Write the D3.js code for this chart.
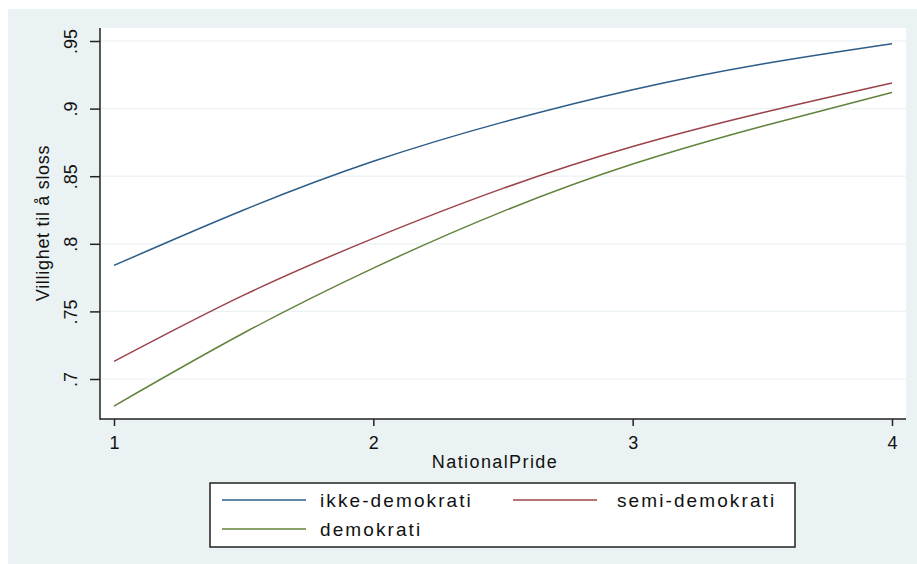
<!DOCTYPE html>
<html>
<head>
<meta charset="utf-8">
<script src="https://cdn.jsdelivr.net/npm/d3@7"></script>
<style>
  html, body { margin: 0; padding: 0; background: #ffffff; }
  svg { display: block; font-family: "Liberation Sans", Arial, sans-serif; }
</style>
</head>
<body>
<svg id="chart" width="917" height="564"></svg>
<script>
// Predicted willingness to fight by national pride, per regime type
const pride = [1, 1.5, 2, 2.5, 3, 3.5, 4];
const ikkeDemokrati = [0.784, 0.825, 0.861, 0.890, 0.914, 0.933, 0.948];
const semiDemokrati = [0.713, 0.762, 0.804, 0.841, 0.872, 0.897, 0.919];
const demokrati     = [0.680, 0.734, 0.782, 0.824, 0.859, 0.887, 0.912];

const seriesNames = ["ikke-demokrati", "semi-demokrati", "demokrati"];
const seriesColors = ["#2c5c88", "#9c434a", "#62833c"];

const xTicks = [1, 2, 3, 4];
const xTickLabels = ["1", "2", "3", "4"];
const yTicks = [0.7, 0.75, 0.8, 0.85, 0.9, 0.95];
const yTickLabels = [".7", ".75", ".8", ".85", ".9", ".95"];

const xTitle = "NationalPride";
const yTitle = "Villighet til å sloss";

const svg = d3.select("#chart");
const W = 917, H = 564;

// graph region background
svg.append("rect").attr("x", 8).attr("y", 9).attr("width", W - 8).attr("height", H - 9)
  .attr("fill", "#eaf2f3");

// plot region
const plot = { left: 100, top: 28, right: 906, bottom: 419 };
svg.append("rect")
  .attr("x", plot.left).attr("y", plot.top)
  .attr("width", plot.right - plot.left).attr("height", plot.bottom - plot.top)
  .attr("fill", "#ffffff");

const x = d3.scaleLinear().domain([1, 4]).range([114, 892]);
const y = d3.scaleLinear().domain([0.7, 0.95]).range([379, 41]);

// horizontal grid lines
svg.append("g").selectAll("line").data(yTicks).join("line")
  .attr("x1", plot.left).attr("x2", plot.right)
  .attr("y1", d => y(d)).attr("y2", d => y(d))
  .attr("stroke", "#eaf2f3").attr("stroke-width", 1.2);

// series curves
const data = [ikkeDemokrati, semiDemokrati, demokrati];
const line = d3.line()
  .x((d, i) => x(pride[i]))
  .y(d => y(d))
  .curve(d3.curveNatural);

svg.append("g").selectAll("path").data(data).join("path")
  .attr("d", d => line(d))
  .attr("fill", "none")
  .attr("stroke", (d, i) => seriesColors[i])
  .attr("stroke-width", 1.5);

// y axis
const yAxis = svg.append("g")
  .attr("transform", `translate(${plot.left},0)`)
  .call(d3.axisLeft(y).tickValues(yTicks)
    .tickFormat((d, i) => yTickLabels[i]).tickSize(10).tickSizeOuter(0));
yAxis.select(".domain").remove();
yAxis.selectAll(".tick line").attr("stroke", "#222").attr("stroke-width", 1.5);
yAxis.selectAll(".tick text")
  .attr("transform", "rotate(-90)")
  .attr("x", 0).attr("y", -23).attr("dy", 0)
  .attr("text-anchor", "middle")
  .attr("fill", "#111")
  .style("font-size", "18px")
  .style("font-family", "'Liberation Sans', Arial, sans-serif");

// x axis
const xAxis = svg.append("g")
  .attr("transform", `translate(0,${plot.bottom})`)
  .call(d3.axisBottom(x).tickValues(xTicks)
    .tickFormat((d, i) => xTickLabels[i]).tickSize(7).tickSizeOuter(0));
xAxis.select(".domain").remove();
xAxis.selectAll(".tick line").attr("stroke", "#222").attr("stroke-width", 1.5);
xAxis.selectAll(".tick text")
  .attr("y", 30).attr("dy", 0)
  .attr("fill", "#111")
  .style("font-size", "18px")
  .style("font-family", "'Liberation Sans', Arial, sans-serif");

// axis lines
svg.append("line").attr("x1", plot.left).attr("x2", plot.left)
  .attr("y1", plot.top).attr("y2", plot.bottom + 0.75)
  .attr("stroke", "#222").attr("stroke-width", 1.5);
svg.append("line").attr("x1", plot.left).attr("x2", plot.right)
  .attr("y1", plot.bottom).attr("y2", plot.bottom)
  .attr("stroke", "#222").attr("stroke-width", 1.5);

// axis titles
svg.append("text")
  .attr("x", (plot.left + plot.right) / 2 - 8).attr("y", 468)
  .attr("text-anchor", "middle")
  .attr("fill", "#111")
  .style("font-size", "18px")
  .style("letter-spacing", "1.4px")
  .text(xTitle);

svg.append("text")
  .attr("transform", "translate(49,223) rotate(-90)")
  .attr("text-anchor", "middle")
  .attr("fill", "#111")
  .style("font-size", "18px")
  .style("letter-spacing", "0.7px")
  .text(yTitle);

// legend
const legend = svg.append("g");
legend.append("rect")
  .attr("x", 210).attr("y", 483).attr("width", 585).attr("height", 64)
  .attr("fill", "#ffffff").attr("stroke", "#222").attr("stroke-width", 1.5);

const legendPos = [
  { lx: 222, tx: 320, y: 500 },
  { lx: 513, tx: 617, y: 500 },
  { lx: 222, tx: 320, y: 529 }
];
seriesNames.forEach((name, i) => {
  const p = legendPos[i];
  legend.append("line")
    .attr("x1", p.lx).attr("x2", p.lx + 84)
    .attr("y1", p.y).attr("y2", p.y)
    .attr("stroke", seriesColors[i]).attr("stroke-width", 1.5);
  legend.append("text")
    .attr("x", p.tx).attr("y", p.y + 7)
    .attr("fill", "#111")
    .style("font-size", "19px")
    .style("letter-spacing", "2.1px")
    .text(name);
});
</script>
</body>
</html>
